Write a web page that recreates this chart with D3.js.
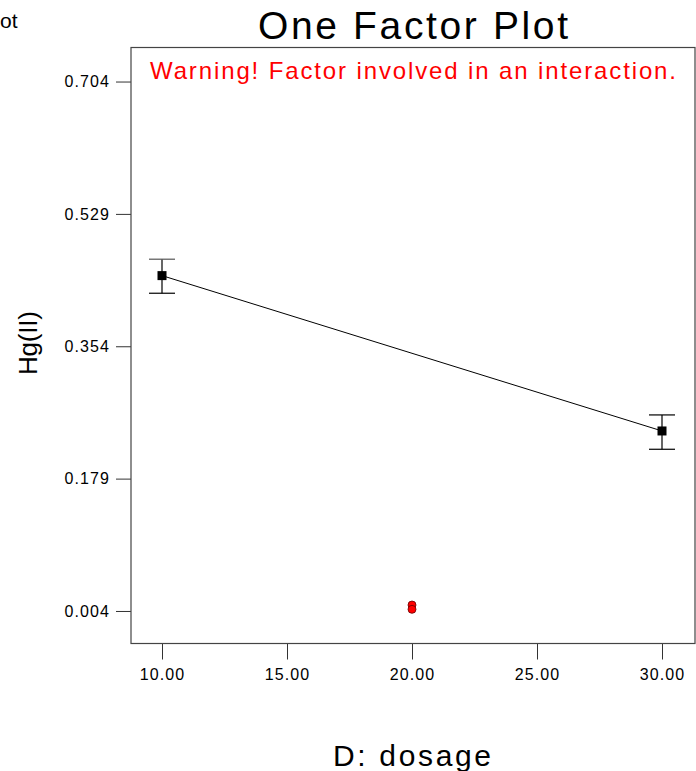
<!DOCTYPE html>
<html>
<head>
<meta charset="utf-8">
<script src="https://cdn.jsdelivr.net/npm/d3@7"></script>
<style>
  html, body { margin: 0; padding: 0; background: #fff; }
  svg { display: block; font-family: "Liberation Sans", Arial, sans-serif; }
</style>
</head>
<body>
<svg id="chart" width="696" height="771"></svg>
<script>
// data
var levels = [10, 30];
var means = [0.4474, 0.2420];
var lsdHi = [0.4691, 0.2632];
var lsdLo = [0.4241, 0.2178];
var obsX = [20, 20];
var obsY = [0.0119, 0.0062];
var yTicks = [0.004, 0.179, 0.354, 0.529, 0.704];
var xTicks = [10, 15, 20, 25, 30];

var box = { left: 131, top: 47.5, right: 695, bottom: 643.5 };

var svg = d3.select("#chart");
var x = d3.scaleLinear().domain([8.76, 31.32]).range([box.left, box.right]);
var y = d3.scaleLinear().domain([-0.039, 0.749]).range([box.bottom, box.top]);

// header fragment at top-left (rest of it is off the page in the reference)
svg.append("text").attr("x", 0).attr("y", 28).attr("font-size", 21).text("ot");

// title
svg.append("text").attr("x", 413).attr("y", 39).attr("text-anchor", "middle")
  .attr("font-size", 39).attr("textLength", 310).text("One Factor Plot");

// axes
var yAxis = d3.axisLeft(y).tickValues(yTicks).tickFormat(d3.format(".3f")).tickSize(15).tickPadding(6);
var gy = svg.append("g").attr("transform", "translate(" + box.left + ",0)").call(yAxis);
gy.select(".domain").remove();
gy.selectAll("text").attr("font-size", 16).attr("fill", "#000").style("letter-spacing", "1.1px");
gy.selectAll("line").attr("stroke", "#333");

var xAxis = d3.axisBottom(x).tickValues(xTicks).tickFormat(d3.format(".2f")).tickSize(16).tickPadding(9);
var gx = svg.append("g").attr("transform", "translate(0," + box.bottom + ")").call(xAxis);
gx.select(".domain").remove();
gx.selectAll("text").attr("font-size", 16).attr("fill", "#000").style("letter-spacing", "1.1px");
gx.selectAll("line").attr("stroke", "#333");

// frame
svg.append("rect").attr("x", box.left).attr("y", box.top)
  .attr("width", box.right - box.left).attr("height", box.bottom - box.top)
  .attr("fill", "none").attr("stroke", "#444").attr("stroke-width", 1.2);

// warning
svg.append("text").attr("x", 413).attr("y", 79).attr("text-anchor", "middle")
  .attr("font-size", 24).attr("fill", "#ff0000").attr("textLength", 526)
  .text("Warning! Factor involved in an interaction.");

// mean line
svg.append("path")
  .attr("d", d3.line().x(function (d, i) { return x(levels[i]); }).y(function (d) { return y(d); })(means))
  .attr("fill", "none").attr("stroke", "#000").attr("stroke-width", 1);

// LSD bars
var bars = svg.append("g").attr("stroke", "#000").attr("stroke-width", 1.2);
levels.forEach(function (lv, i) {
  var cx = x(lv);
  bars.append("line").attr("x1", cx).attr("x2", cx).attr("y1", y(lsdHi[i])).attr("y2", y(lsdLo[i]));
  bars.append("line").attr("x1", cx - 13).attr("x2", cx + 13).attr("y1", y(lsdHi[i])).attr("y2", y(lsdHi[i])).attr("stroke", i === 0 ? "#555" : "#000");
  bars.append("line").attr("x1", cx - 13).attr("x2", cx + 13).attr("y1", y(lsdLo[i])).attr("y2", y(lsdLo[i]));
});

// means squares
svg.selectAll("rect.mean").data(means).enter().append("rect").attr("class", "mean")
  .attr("x", function (d, i) { return x(levels[i]) - 4.5; })
  .attr("y", function (d) { return y(d) - 4.5; })
  .attr("width", 9).attr("height", 9).attr("fill", "#000");

// observed points
svg.selectAll("circle.obs").data(obsY).enter().append("circle").attr("class", "obs")
  .attr("cx", function (d, i) { return x(obsX[i]); })
  .attr("cy", function (d) { return y(d); })
  .attr("r", 4).attr("fill", "#ff0000").attr("stroke", "#600").attr("stroke-width", 0.8);

// axis titles
svg.append("text").attr("x", 412).attr("y", 766).attr("text-anchor", "middle")
  .attr("font-size", 30).attr("textLength", 158).text("D: dosage");
svg.append("text").attr("transform", "translate(37,343) rotate(-90)").attr("text-anchor", "middle")
  .attr("font-size", 26).attr("textLength", 64).text("Hg(II)");
</script>
</body>
</html>
